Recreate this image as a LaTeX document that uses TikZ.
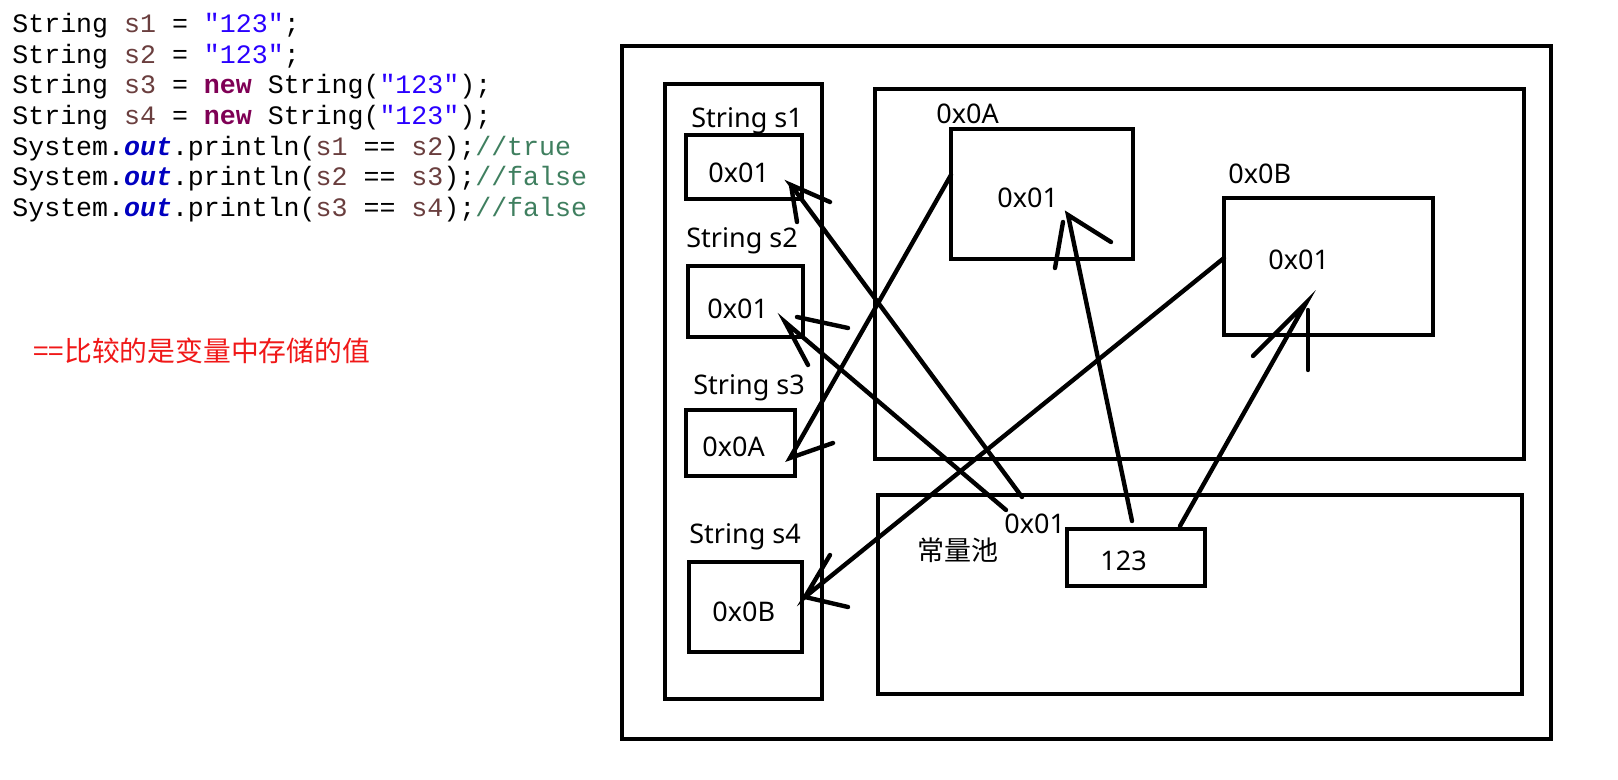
\documentclass[tikz,border=0pt]{standalone}
\usepackage{fontspec}
\newfontfamily\codefont{Liberation Mono}
\newfontfamily\lblfont{Noto Sans}
\newfontfamily\cjkfont{Noto Sans CJK SC}
\definecolor{cvar}{HTML}{6A3E3E}
\definecolor{cstr}{HTML}{2A00FF}
\definecolor{ckw}{HTML}{7F0055}
\definecolor{cfld}{HTML}{0000C0}
\definecolor{ccom}{HTML}{3F7F5F}
\definecolor{redtxt}{HTML}{F01818}
\newcommand{\cv}[1]{\textcolor{cvar}{#1}}
\newcommand{\cs}[1]{\textcolor{cstr}{#1}}
\newcommand{\ck}[1]{\textcolor{ckw}{\bfseries #1}}
\newcommand{\cf}[1]{\textcolor{cfld}{\bfseries\itshape #1}}
\newcommand{\cc}[1]{\textcolor{ccom}{#1}}
\begin{document}
\begin{tikzpicture}[x=0.5pt,y=-0.5pt,
  box/.style={draw,line width=2.3pt,inner sep=0pt},
  code/.style={anchor=base west,inner sep=0pt,font=\codefont\fontsize{13.3pt}{15pt}\selectfont},
  lbl/.style={anchor=base west,inner sep=0pt,font=\lblfont\fontsize{13.5pt}{16pt}\selectfont},
  cjk/.style={anchor=base west,inner sep=0pt,font=\cjkfont\fontsize{13.5pt}{16pt}\selectfont},
  hand/.style={line width=2.2pt,line cap=round}]
\useasboundingbox (0,0) rectangle (1618,780);
\fill[white] (0,0) rectangle (1618,780);
% code
\node[code] (c1) at (12,32.5) {String \cv{s1} = \cs{"123"};};
\node[code] (c2) at (12,63.2) {String \cv{s2} = \cs{"123"};};
\node[code] (c3) at (12,93.9) {String \cv{s3} = \ck{new} String(\cs{"123"});};
\node[code] (c4) at (12,124.6) {String \cv{s4} = \ck{new} String(\cs{"123"});};
\node[code] (c5) at (12,155.3) {System.\cf{out}.println(\cv{s1} == \cv{s2});\cc{//true}};
\node[code] (c6) at (12,186) {System.\cf{out}.println(\cv{s2} == \cv{s3});\cc{//false}};
\node[code] (c7) at (12,216.7) {System.\cf{out}.println(\cv{s3} == \cv{s4});\cc{//false}};
\node[cjk,text=redtxt,font=\cjkfont\fontsize{13.9pt}{16pt}\selectfont] (note) at (33,362) {==比较的是变量中存储的值};
% boxes
\node[box,minimum width=464.5pt,minimum height=346.5pt] (outer) at (1086.5,392.5) {};
\node[box,minimum width=78.5pt,minimum height=307.5pt] (stack) at (743.5,391.5) {};
\node[box,minimum width=58pt,minimum height=32pt] (s1) at (744,167) {};
\node[box,minimum width=57.5pt,minimum height=35.5pt] (s2) at (745.5,301.5) {};
\node[box,minimum width=54.5pt,minimum height=33pt] (s3) at (740.5,443) {};
\node[box,minimum width=56.5pt,minimum height=45pt] (s4) at (745.5,607) {};
\node[box,minimum width=324.5pt,minimum height=185pt] (heap) at (1199.5,274) {};
\node[box,minimum width=91pt,minimum height=65pt] (objA) at (1042,194) {};
\node[box,minimum width=104.5pt,minimum height=68.5pt] (objB) at (1328.5,266.5) {};
\node[box,minimum width=322pt,minimum height=99.5pt] (pool) at (1200,594.5) {};
\node[box,minimum width=69pt,minimum height=28.5pt] (v123) at (1136,557.5) {};
% labels
\node[lbl] (ls1) at (691,128) {String s1};
\node[lbl] (ts1) at (708,183) {0x01};
\node[lbl] (ls2) at (686,248) {String s2};
\node[lbl] (ts2) at (707,319) {0x01};
\node[lbl] (ls3) at (693,395) {String s3};
\node[lbl] (ts3) at (702,457) {0x0A};
\node[lbl] (ls4) at (689,544) {String s4};
\node[lbl] (ts4) at (712,622) {0x0B};
\node[lbl] (lA) at (936,124) {0x0A};
\node[lbl] (tA) at (997,208) {0x01};
\node[lbl] (lB) at (1228,184) {0x0B};
\node[lbl] (tB) at (1268,270) {0x01};
\node[lbl] (lP) at (1004,534) {0x01};
\node[cjk] (pooltxt) at (917,560) {常量池};
\node[lbl] (t123) at (1100,571) {123};
% arrow geometry
\coordinate (a1) at (1022,497); \coordinate (a1t) at (791,185);
\coordinate (a1b) at (830,202); \coordinate (a1c) at (797,222);
\coordinate (a2) at (1006,510); \coordinate (a2t) at (785,322);
\coordinate (a2b0) at (797,317); \coordinate (a2b) at (848,328); \coordinate (a2c) at (808,365);
\coordinate (a3) at (951,175); \coordinate (a3t) at (790,458); \coordinate (a3b) at (833,443);
\coordinate (a4) at (1224,258); \coordinate (a4t) at (805,597);
\coordinate (a4b) at (830,555); \coordinate (a4c) at (848,607);
\coordinate (a5) at (1132,521); \coordinate (a5t) at (1068,215);
\coordinate (a5b) at (1111,242); \coordinate (a5c0) at (1063,222); \coordinate (a5c) at (1055,268);
\coordinate (a6) at (1180,526); \coordinate (a6t) at (1306,303);
\coordinate (a6b) at (1253,356); \coordinate (a6c0) at (1308,310); \coordinate (a6c) at (1308,370);
% arrows
\draw[hand] (a1) -- (a1t) -- (a1b); \draw[hand] (a1t) -- (a1c);
\draw[hand] (a2) -- (a2t) -- (a2c); \draw[hand] (a2b0) -- (a2b);
\draw[hand] (a3) -- (a3t) -- (a3b);
\draw[hand] (a4) -- (a4t) -- (a4b); \draw[hand] (a4t) -- (a4c);
\draw[hand] (a5) -- (a5t) -- (a5b); \draw[hand] (a5c0) -- (a5c);
\draw[hand] (a6) -- (a6t) -- (a6b); \draw[hand] (a6c0) -- (a6c);
\end{tikzpicture}
\end{document}
